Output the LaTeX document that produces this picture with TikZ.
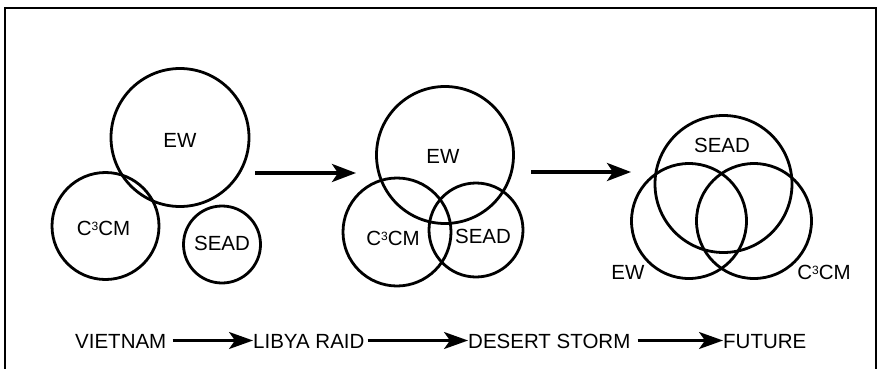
\documentclass[tikz,border=0pt]{standalone}
\usepackage{fontspec}
\setmainfont{Liberation Sans}
\usetikzlibrary{arrows.meta}
\newcommand{\cthree}{C\raisebox{0.45ex}{\fontsize{12}{12}\selectfont 3}CM}
\begin{document}
\begin{tikzpicture}[x=1pt,y=-1pt,
  ring/.style={circle,draw,line width=2.8pt,inner sep=0pt,minimum size=#1},
  lbl/.style={anchor=base,inner sep=0pt,font=\fontsize{20.5}{22}\selectfont},
  stagelbl/.style={anchor=base west,inner sep=0pt,font=\fontsize{20.5}{22}\selectfont},
  bigarrow/.style={line width=3.6pt,-{Stealth[length=24pt,width=18pt,inset=6pt]}},
  smallarrow/.style={line width=2.4pt,-{Stealth[length=24pt,width=17pt,inset=6pt]}}]
\useasboundingbox (0,0) rectangle (880,369);
\draw[line width=2pt] (5,8) rectangle (876,380);
% Stage 1: Vietnam
\node[ring=138pt] (ew1) at (180,137.5) {};
\node[ring=107pt] (cm1) at (105.5,226) {};
\node[ring=77pt] (sd1) at (222,244.5) {};
\node[lbl] (ew1t) at (180,147) {EW};
\node[lbl] (cm1t) at (103.5,235) {\cthree};
\node[lbl] (sd1t) at (222,250) {SEAD};
% Stage 2: Libya raid
\node[ring=137pt] (ew2) at (445,155) {};
\node[ring=108pt] (cm2) at (397,232) {};
\node[ring=94pt] (sd2) at (476,230) {};
\node[lbl] (ew2t) at (443,163) {EW};
\node[lbl] (cm2t) at (393,245) {\cthree};
\node[lbl] (sd2t) at (483,243) {SEAD};
% Stage 3: Future
\node[ring=137pt] (sd3) at (723.5,184) {};
\node[ring=115pt] (ew3) at (689,221) {};
\node[ring=115pt] (cm3) at (754,221) {};
\node[lbl] (sd3t) at (722,152) {SEAD};
\node[lbl] (ew3t) at (628,279) {EW};
\node[lbl] (cm3t) at (824,279) {\cthree};
% stage arrows
\coordinate (a1s) at (255,173);
\coordinate (a1e) at (356,173);
\coordinate (a2s) at (531,172);
\coordinate (a2e) at (631,172);
\draw[bigarrow] (a1s) -- (a1e);
\draw[bigarrow] (a2s) -- (a2e);
% timeline
\node[stagelbl] (viet) at (75,348) {VIETNAM};
\node[stagelbl] (libya) at (253,348) {LIBYA RAID};
\node[stagelbl] (desert) at (468,348) {DESERT STORM};
\node[stagelbl] (future) at (723,348) {FUTURE};
\draw[smallarrow,shorten <=6pt] ([yshift=7.5pt]viet.base east) -- ([yshift=7.5pt]libya.base west);
\draw[smallarrow,shorten <=3pt] ([yshift=7.5pt]libya.base east) -- ([yshift=7.5pt]desert.base west);
\draw[smallarrow,shorten <=7pt] ([yshift=7.5pt]desert.base east) -- ([yshift=7.5pt]future.base west);
\end{tikzpicture}
\end{document}
